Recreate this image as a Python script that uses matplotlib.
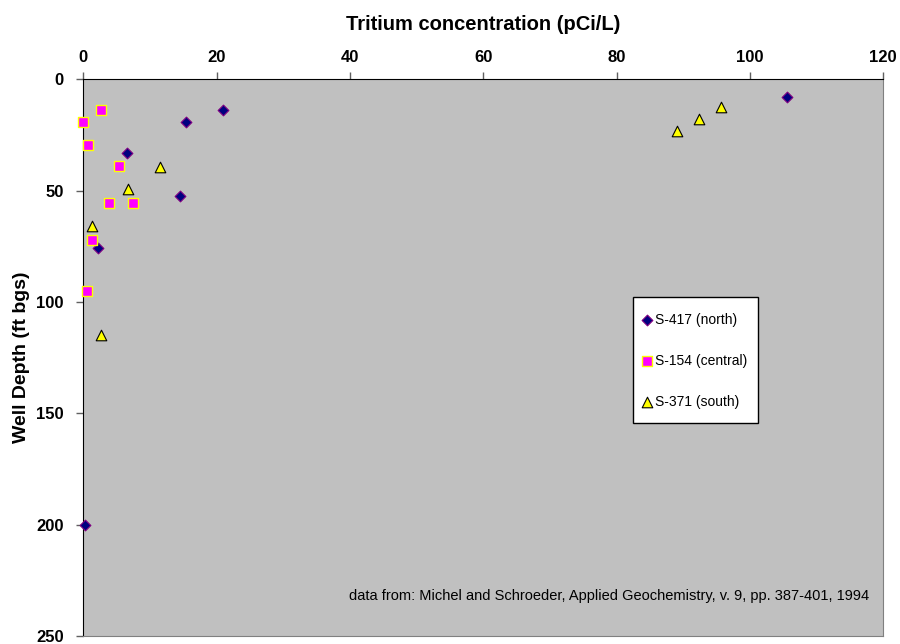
import matplotlib
matplotlib.use("Agg")
import matplotlib.pyplot as plt
from matplotlib.patches import Rectangle

plt.rcParams['font.family'] = ['Liberation Sans', 'DejaVu Sans']

# S-417 (north)
north_x = [21.0, 15.4, 6.5, 14.5, 2.2, 0.3, 105.5]
north_y = [14, 19, 33, 52.5, 75.6, 200, 8]
# S-154 (central)
central_x = [2.6, 0.0, 0.7, 5.4, 3.8, 7.4, 1.3, 0.6]
central_y = [14, 19, 29.5, 39, 55.7, 55.7, 72.2, 95]
# S-371 (south)
south_x = [11.5, 6.7, 1.3, 2.6, 89.0, 92.4, 95.6]
south_y = [39.5, 49.4, 65.7, 114.8, 23, 18, 12.6]

xticks = [0, 20, 40, 60, 80, 100, 120]
yticks = [0, 50, 100, 150, 200, 250]

W, H = 900, 644
L, R, T, B = 83.3, 883.3, 79.3, 636.0

fig = plt.figure(figsize=(9, 6.44), dpi=100)
ax = fig.add_axes([L / W, 1 - B / H, (R - L) / W, (B - T) / H])
ax.set_facecolor('#C0C0C0')

def ax_x(px):
    return (px - L) / (R - L)

def ax_y(py):
    return 1 - (py - T) / (B - T)

ax.scatter(north_x, north_y, marker='D', s=30, c='#000080', edgecolors='#800080',
           linewidths=0.8, label='S-417 (north)', zorder=3, clip_on=False)
ax.scatter(central_x, central_y, marker='s', s=52, c='#FF00FF', edgecolors='#FFFF00',
           linewidths=1.0, label='S-154 (central)', zorder=3, clip_on=False)
ax.scatter(south_x, south_y, marker='^', s=58, c='#FFFF00', edgecolors='black',
           linewidths=0.8, label='S-371 (south)', zorder=3, clip_on=False)

ax.set_xlim(0, 120)
ax.set_ylim(250, 0)
ax.xaxis.tick_top()
ax.set_xticks(xticks)
ax.set_yticks(yticks)
ax.tick_params(axis='both', labelsize=12, length=5, color='#606060', width=1)
for lab in ax.get_xticklabels() + ax.get_yticklabels():
    lab.set_fontweight('bold')
ax.tick_params(axis='x', pad=5)
ax.tick_params(axis='y', pad=9)

fig.text((L + R) / 2 / W, 1 - 24 / H, 'Tritium concentration (pCi/L)',
         fontsize=14.5, fontweight='bold', ha='center', va='center')
fig.text(22 / W, 1 - 357 / H, 'Well Depth (ft bgs)', rotation=90,
         fontsize=14, fontweight='bold', ha='center', va='center')

ax.spines['top'].set_color('black')
ax.spines['left'].set_color('black')
ax.spines['right'].set_color('#808080')
ax.spines['bottom'].set_color('#808080')

# legend box
bx0, bx1, by0, by1 = 632.7, 757.7, 297.3, 423.0
rect = Rectangle((ax_x(bx0), ax_y(by1)), ax_x(bx1) - ax_x(bx0), ax_y(by0) - ax_y(by1),
                 transform=ax.transAxes, facecolor='white', edgecolor='black',
                 linewidth=1, zorder=4)
ax.add_patch(rect)

leg = ax.legend(loc='center left', bbox_to_anchor=(ax_x(641.5), ax_y(361)),
                fontsize=10, frameon=False, labelspacing=1.95, handletextpad=0.18,
                handlelength=0.8, borderpad=0, borderaxespad=0)
leg.set_zorder(5)

ax.text(ax_x(869), ax_y(596),
        'data from: Michel and Schroeder, Applied Geochemistry, v. 9, pp. 387-401, 1994',
        transform=ax.transAxes, ha='right', va='center', fontsize=10.5)

fig.savefig('out.png', dpi=100)
